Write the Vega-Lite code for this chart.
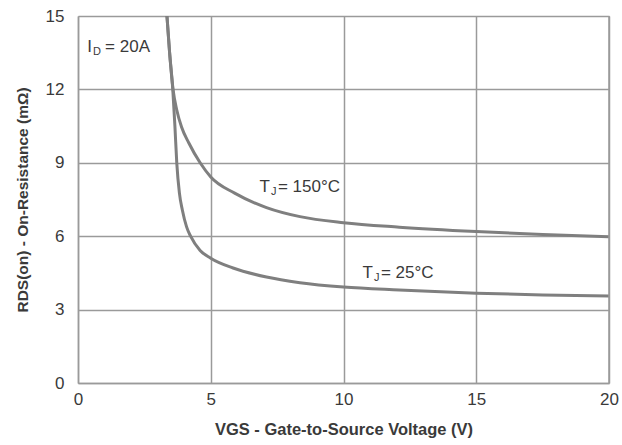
{
  "$schema": "https://vega.github.io/schema/vega-lite/v6.json",
  "width": 531,
  "height": 367,
  "autosize": {"type": "none"},
  "padding": {"left": 78, "top": 16, "right": 13, "bottom": 62},
  "background": "white",
  "config": {
    "font": "Liberation Sans",
    "view": {"stroke": null},
    "axis": {
      "gridColor": "#9a9a9a", "gridWidth": 1.5, "gridOpacity": 1,
      "domainColor": "#9a9a9a", "domainWidth": 1.5,
      "ticks": false, "labelFlush": false,
      "labelFont": "Liberation Sans", "labelFontSize": 17, "labelColor": "#3a3a3a",
      "titleFont": "Liberation Sans", "titleFontWeight": "bold", "titleColor": "#3a3a3a"
    }
  },
  "layer": [
    {
      "data": {"values": [
        {"vgs": 3.35, "r": 15, "tj": "150"},
        {"vgs": 3.45, "r": 13.5, "tj": "150"},
        {"vgs": 3.58, "r": 12, "tj": "150"},
        {"vgs": 3.72, "r": 11.16, "tj": "150"},
        {"vgs": 3.9, "r": 10.46, "tj": "150"},
        {"vgs": 4.18, "r": 9.8, "tj": "150"},
        {"vgs": 4.6, "r": 9.0, "tj": "150"},
        {"vgs": 5, "r": 8.42, "tj": "150"},
        {"vgs": 5.9, "r": 7.76, "tj": "150"},
        {"vgs": 7.1, "r": 7.17, "tj": "150"},
        {"vgs": 8.36, "r": 6.8, "tj": "150"},
        {"vgs": 10, "r": 6.55, "tj": "150"},
        {"vgs": 12.1, "r": 6.37, "tj": "150"},
        {"vgs": 15, "r": 6.19, "tj": "150"},
        {"vgs": 17.5, "r": 6.07, "tj": "150"},
        {"vgs": 20, "r": 5.98, "tj": "150"},
        {"vgs": 3.35, "r": 15, "tj": "25"},
        {"vgs": 3.45, "r": 13.5, "tj": "25"},
        {"vgs": 3.57, "r": 12, "tj": "25"},
        {"vgs": 3.65, "r": 10.5, "tj": "25"},
        {"vgs": 3.72, "r": 9, "tj": "25"},
        {"vgs": 3.82, "r": 7.76, "tj": "25"},
        {"vgs": 3.93, "r": 7.07, "tj": "25"},
        {"vgs": 4.09, "r": 6.38, "tj": "25"},
        {"vgs": 4.24, "r": 6.0, "tj": "25"},
        {"vgs": 4.6, "r": 5.42, "tj": "25"},
        {"vgs": 5, "r": 5.1, "tj": "25"},
        {"vgs": 5.84, "r": 4.7, "tj": "25"},
        {"vgs": 7.1, "r": 4.33, "tj": "25"},
        {"vgs": 8.36, "r": 4.1, "tj": "25"},
        {"vgs": 10, "r": 3.92, "tj": "25"},
        {"vgs": 12.1, "r": 3.8, "tj": "25"},
        {"vgs": 15, "r": 3.67, "tj": "25"},
        {"vgs": 17.5, "r": 3.6, "tj": "25"},
        {"vgs": 20, "r": 3.56, "tj": "25"}
      ]},
      "mark": {"type": "line", "color": "#7f7f7f", "strokeWidth": 3, "interpolate": "monotone", "clip": true},
      "encoding": {
        "x": {"field": "vgs", "type": "quantitative", "scale": {"domain": [0, 20], "nice": false},
              "axis": {"values": [0, 5, 10, 15, 20], "labelPadding": 8, "title": "VGS - Gate-to-Source Voltage (V)", "titleFontSize": 16.5, "titlePadding": 14}},
        "y": {"field": "r", "type": "quantitative", "scale": {"domain": [0, 15], "nice": false},
              "axis": {"values": [0, 3, 6, 9, 12, 15], "labelPadding": 14, "title": "RDS(on) - On-Resistance (mΩ)", "titleFontSize": 15.5, "titlePadding": 15}},
        "detail": {"field": "tj"}
      }
    },
    {
      "data": {"values": [{"x": 20}]},
      "mark": {"type": "rule", "color": "#9a9a9a", "strokeWidth": 1.5},
      "encoding": {"x": {"field": "x", "type": "quantitative"}, "y": {"datum": 0}, "y2": {"datum": 15}}
    },
    {
      "data": {"values": [
        {"x": 0.53, "y": 13.73, "main": "I", "sub": "D", "rest": "= 20A"}
      ]},
      "layer": [
        {"mark": {"type": "text", "align": "right", "baseline": "middle", "fontSize": 17, "color": "#3a3a3a"},
         "encoding": {"x": {"field": "x", "type": "quantitative"}, "y": {"field": "y", "type": "quantitative"}, "text": {"field": "main"}}},
        {"mark": {"type": "text", "align": "left", "baseline": "middle", "fontSize": 11, "dx": 1, "dy": 5, "color": "#3a3a3a"},
         "encoding": {"x": {"field": "x", "type": "quantitative"}, "y": {"field": "y", "type": "quantitative"}, "text": {"field": "sub"}}},
        {"mark": {"type": "text", "align": "left", "baseline": "middle", "fontSize": 17, "dx": 13, "color": "#3a3a3a"},
         "encoding": {"x": {"field": "x", "type": "quantitative"}, "y": {"field": "y", "type": "quantitative"}, "text": {"field": "rest"}}}
      ]
    },
    {
      "data": {"values": [
        {"x": 7.23, "y": 8.01, "main": "T", "sub": "J", "rest": "= 150°C"},
        {"x": 11.11, "y": 4.5, "main": "T", "sub": "J", "rest": "= 25°C"}
      ]},
      "layer": [
        {"mark": {"type": "text", "align": "right", "baseline": "middle", "fontSize": 17, "color": "#3a3a3a"},
         "encoding": {"x": {"field": "x", "type": "quantitative"}, "y": {"field": "y", "type": "quantitative"}, "text": {"field": "main"}}},
        {"mark": {"type": "text", "align": "left", "baseline": "middle", "fontSize": 11, "dx": 1, "dy": 5, "color": "#3a3a3a"},
         "encoding": {"x": {"field": "x", "type": "quantitative"}, "y": {"field": "y", "type": "quantitative"}, "text": {"field": "sub"}}},
        {"mark": {"type": "text", "align": "left", "baseline": "middle", "fontSize": 17, "dx": 8, "color": "#3a3a3a"},
         "encoding": {"x": {"field": "x", "type": "quantitative"}, "y": {"field": "y", "type": "quantitative"}, "text": {"field": "rest"}}}
      ]
    }
  ]
}
